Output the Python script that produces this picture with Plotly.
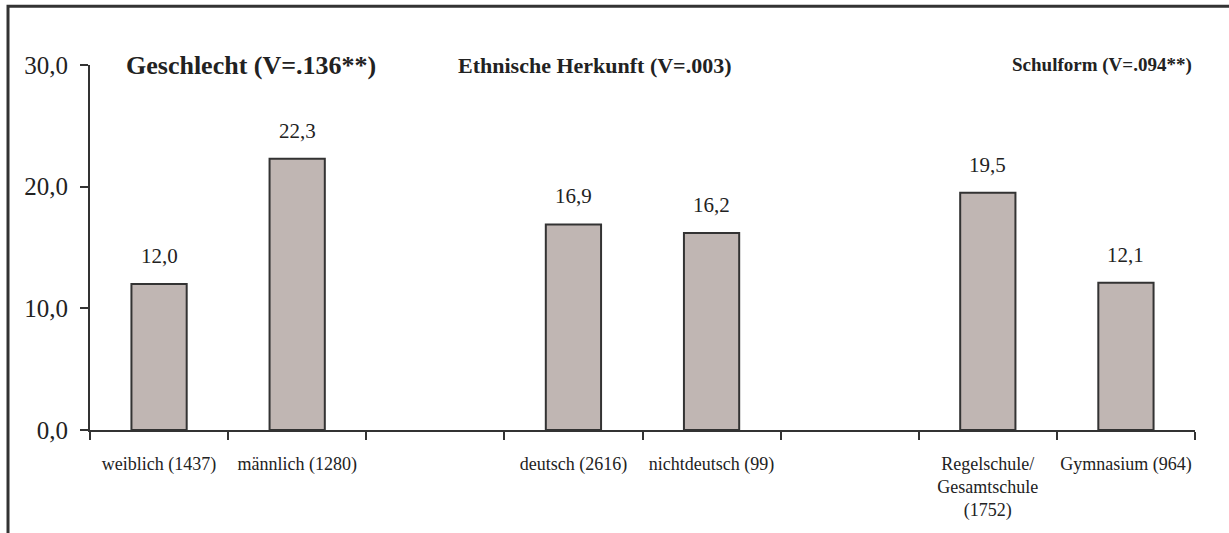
import plotly.graph_objects as go

categories = ["weiblich (1437)", "männlich (1280)", " ", "deutsch (2616)", "nichtdeutsch (99)", "  ",
              "Regelschule/<br>Gesamtschule<br>(1752)", "Gymnasium (964)"]
values = [12.0, 22.3, None, 16.9, 16.2, None, 19.5, 12.1]
group_titles = ["Geschlecht (V=.136**)", "Ethnische Herkunft (V=.003)", "Schulform (V=.094**)"]
group_title_x = [0.146, 0.4566, 0.916]
group_title_size = [26, 22, 19]
y_ticks = [0, 10, 20, 30]
y_ticklabels = ["0,0", "10,0", "20,0", "30,0"]

AX = "#333333"
FONT = "Liberation Serif"

fig = go.Figure()
fig.add_trace(go.Bar(
    x=categories, y=values,
    marker=dict(color="#c0b6b3", line=dict(color=AX, width=2)),
    hoverinfo="skip",
))

for c, v in zip(categories, values):
    if v is None:
        continue
    fig.add_annotation(x=c, y=v, text=f"{v:.1f}".replace(".", ","), showarrow=False,
                       yanchor="bottom", yshift=14, font=dict(family=FONT, size=21, color="#222"))

for t, gx, gs in zip(group_titles, group_title_x, group_title_size):
    fig.add_annotation(xref="paper", yref="paper", x=gx, y=1.0, text=f"<b>{t}</b>", showarrow=False,
                       xanchor="center", yanchor="middle", font=dict(family=FONT, size=gs, color="#222"))

# outer frame (extends past the visible page)
fig.add_shape(type="rect", xref="paper", yref="paper", x0=-0.0742, y0=-0.5, x1=1.05, y1=1.161,
              line=dict(color=AX, width=3), fillcolor="rgba(0,0,0,0)")

fig.update_layout(
    width=1229, height=533,
    margin=dict(l=90, r=34, t=65, b=101),
    paper_bgcolor="white", plot_bgcolor="white",
    showlegend=False, bargap=0.6,
    font=dict(family=FONT, color="#222"),
)
fig.update_xaxes(
    type="category", categoryorder="array", categoryarray=categories,
    showline=True, linecolor=AX, linewidth=2,
    ticks="outside", tickson="boundaries", ticklen=8, tickwidth=2, tickcolor=AX,
    tickfont=dict(family=FONT, size=18, color="#222"), tickangle=0, ticklabelstandoff=16,
    showgrid=False, zeroline=False,
)
fig.update_yaxes(
    range=[0, 30], tickvals=y_ticks, ticktext=y_ticklabels,
    showline=True, linecolor=AX, linewidth=2,
    ticks="outside", ticklen=8, tickwidth=2, tickcolor=AX,
    tickfont=dict(family=FONT, size=25, color="#222"), ticklabelstandoff=7,
    showgrid=False, zeroline=False,
)

fig.write_html("out.html", config={"displayModeBar": False},
               post_script="document.body.style.margin='0';document.body.style.overflow='hidden';")
